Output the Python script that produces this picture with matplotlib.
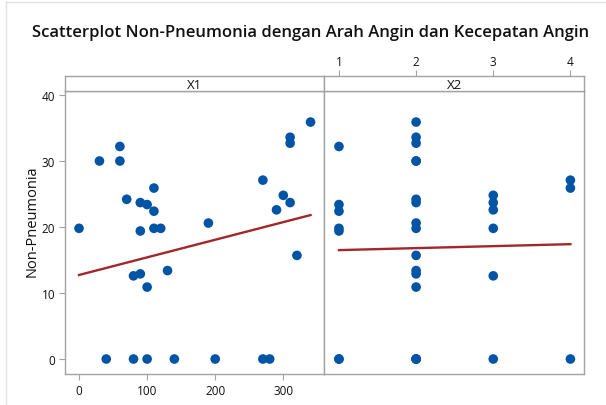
import matplotlib
matplotlib.use("Agg")
import matplotlib.pyplot as plt
import numpy as np

# ---------------- data ----------------
x1 = [0, 30, 60, 60, 70, 90, 100, 110, 110, 90, 110, 120, 190, 80, 90, 100, 130,
      270, 300, 310, 290, 310, 310, 340, 320,
      40, 80, 100, 140, 200, 270, 280]
x2 = [1, 2, 1, 2, 2, 2, 1, 4, 1, 1, 2, 3, 2, 3, 2, 2, 2,
      4, 3, 3, 3, 2, 2, 2, 2,
      1, 2, 2, 3, 4, 2, 1]
non_pneumonia = [19.8, 30.0, 32.2, 30.0, 24.2, 23.7, 23.4, 25.9, 22.4, 19.4, 19.8, 19.8,
                 20.6, 12.6, 12.9, 10.9, 13.4,
                 27.1, 24.8, 23.7, 22.6, 33.6, 32.7, 35.9, 15.7,
                 0, 0, 0, 0, 0, 0, 0]

# fitted regression lines (intercept, slope)
fit_x1 = (12.73, 0.0267)
fit_x2 = (16.20, 0.30)

y_ticks = [0, 10, 20, 30, 40]
x1_ticks = [0, 100, 200, 300]
x2_ticks = [1, 2, 3, 4]
panel_names = ["X1", "X2"]

title = "Scatterplot Non-Pneumonia dengan Arah Angin dan Kecepatan Angin"
ylabel = "Non-Pneumonia"

# ---------------- style ----------------
plt.rcParams["font.family"] = ["Open Sans", "DejaVu Sans"]
W, H = 606, 406
fig = plt.figure(figsize=(W / 100, H / 100), dpi=100)
fig.patch.set_facecolor("white")

frame_col = "#a3a3a3"
dot_col = "#0054a6"
line_col = "#a3262a"
txt_col = "#111111"


def fx(px):
    return px / W


def fy(py):
    return 1 - py / H


# outer window border (light)
fig.add_artist(plt.Line2D([fx(5.5), fx(5.5)], [fy(406), fy(2.5)], color="#e2e2e2", lw=1.0))
fig.add_artist(plt.Line2D([fx(5.5), fx(606)], [fy(2.5), fy(2.5)], color="#e2e2e2", lw=1.0))

data_top, data_bot = 92.3, 375.0
strip_top = 77.3
panels = [(65.0, 324.3), (324.3, 584.3)]
xlims = [(-20.6, 360.2), (0.81, 4.18)]
ylim = (-2.27, 40.56)

x_data = [x1, x2]
fits = [fit_x1, fit_x2]

for i, (l, r) in enumerate(panels):
    ax = fig.add_axes([fx(l), fy(data_bot), fx(r) - fx(l), (data_bot - data_top) / H])
    ax.set_xlim(*xlims[i])
    ax.set_ylim(*ylim)
    xs = np.array(x_data[i], dtype=float)
    ax.scatter(xs, non_pneumonia, s=48, color=dot_col, edgecolors="none", zorder=3)
    b0, b1 = fits[i]
    xx = np.array([xs.min(), xs.max()])
    ax.plot(xx, b0 + b1 * xx, color=line_col, lw=1.7, zorder=2)
    for sp in ax.spines.values():
        sp.set_color(frame_col)
        sp.set_linewidth(1.0)
    ax.tick_params(colors=frame_col, labelcolor=txt_col, labelsize=8.5, length=4, width=0.8)
    if i == 0:
        ax.set_yticks(y_ticks)
        ax.set_xticks(x1_ticks)
        ax.tick_params(axis="x", pad=3)
        ax.tick_params(axis="y", pad=3)
        ax.set_ylabel(ylabel, fontsize=10.5, color=txt_col)
        ax.yaxis.set_label_coords((40 - l) / (r - l), (data_bot - 221.5) / (data_bot - data_top))
    else:
        ax.set_yticks([])
        ax.set_xticks([])

    # strip
    sax = fig.add_axes([fx(l), fy(data_top), fx(r) - fx(l), (data_top - strip_top) / H])
    sax.set_xlim(*xlims[i])
    sax.set_ylim(0, 1)
    sax.set_yticks([])
    for sp in sax.spines.values():
        sp.set_color(frame_col)
        sp.set_linewidth(1.0)
    sax.text(0.5, 0.45, panel_names[i], transform=sax.transAxes, ha="center", va="center",
             fontsize=9.5, color=txt_col)
    if i == 1:
        sax.set_xticks(x2_ticks)
        sax.xaxis.tick_top()
        sax.tick_params(axis="x", colors=frame_col, labelcolor=txt_col, labelsize=8.5,
                        length=4, width=0.8, pad=2)
    else:
        sax.set_xticks([])

fig.text(fx(311), fy(33), title, ha="center", va="center", fontsize=12,
         fontweight="semibold", color=txt_col)

fig.savefig("out.png", dpi=100, facecolor="white")
